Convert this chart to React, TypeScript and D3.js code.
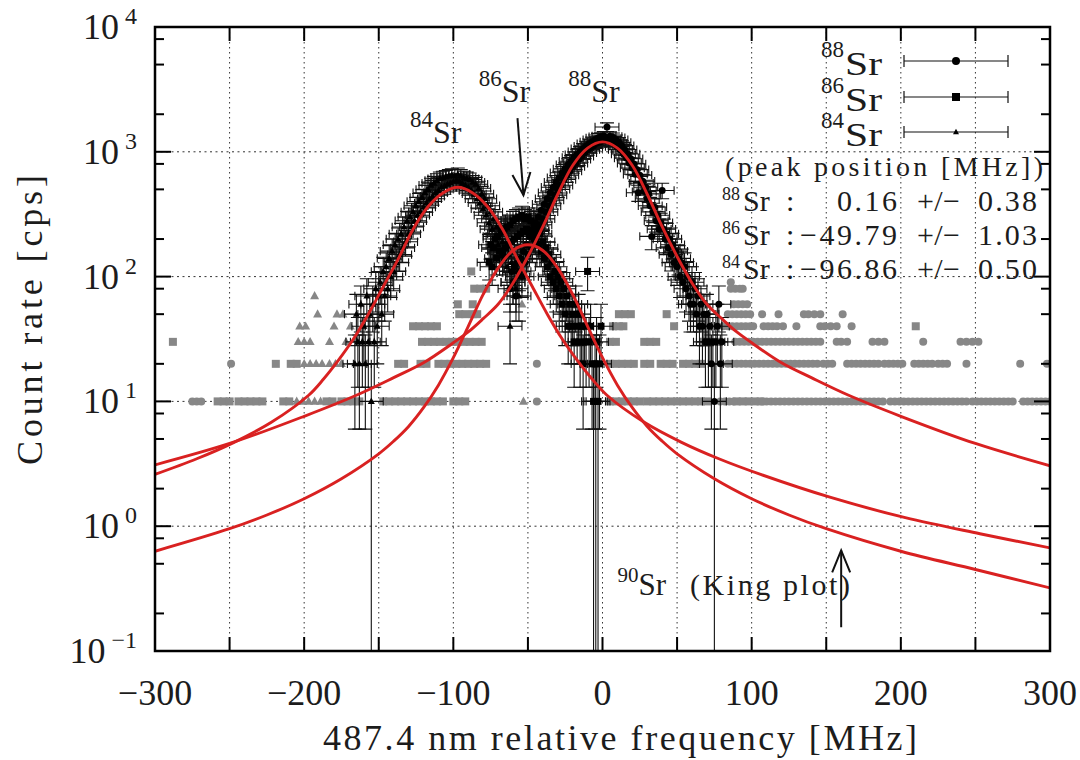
import React from "react";
import * as d3 from "d3";

type P2 = [number, number];
type P3 = [number, number, number];

// ---------- axis ticks ----------
const xGridTicks = [-300, -250, -200, -150, -100, -50, 0, 50, 100, 150, 200, 250, 300];
const xLabelTicks = [-300, -200, -100, 0, 100, 200, 300];
const xLabelTexts = ["\u2212300", "\u2212200", "\u2212100", "0", "100", "200", "300"];
const yDecades = [0.1, 1, 10, 100, 1000, 10000];
const yDecadeExp = ["\u22121", "0", "1", "2", "3", "4"];
const yMinorTicks = [0.2, 0.5, 0.8, 2, 5, 8, 20, 50, 80, 200, 500, 800, 2000, 5000, 8000];

// ---------- fit curves (MHz, cps) ----------
const fit88: P2[] = [[-300,3.1],[-250,4.6],[-200,7.6],[-165,11.2],[-140,15.5],[-120,20.4],[-100,29.5],[-90,36],[-80,46],[-70,60],[-60,89],[-50,145],[-40,251],[-30,457],[-20,776],[-10,1070],[0,1200],[10,1070],[20,776],[30,457],[40,251],[50,145],[60,89],[70,60],[80,46],[90,36],[100,29.5],[120,20.4],[140,15.5],[165,11.2],[200,7.6],[250,4.6],[300,3.05]];
const fit84: P2[] = [[-300,2.6],[-272,3.47],[-247,4.7],[-222,6.8],[-197,11.2],[-187,15.1],[-177,21.4],[-167,31.6],[-157,50],[-147,83],[-137,138],[-127,240],[-117,363],[-107,468],[-97,520],[-87,468],[-77,363],[-67,240],[-57,138],[-47,83],[-37,50],[-27,31.6],[-17,21.4],[-7,15.1],[3,11.2],[28,6.8],[53,4.7],[78,3.47],[106,2.6],[153,1.7],[203,1.17],[253,0.87],[300,0.67]];
const fit86: P2[] = [[-300,0.63],[-250,0.955],[-225,1.23],[-200,1.66],[-175,2.4],[-150,3.8],[-140,4.8],[-130,6.3],[-120,8.9],[-110,13.5],[-100,22.4],[-90,40],[-80,72],[-70,117],[-60,162],[-50,180],[-40,162],[-30,117],[-20,72],[-10,40],[0,22.4],[10,13.5],[20,8.9],[30,6.3],[40,4.8],[50,3.8],[75,2.4],[100,1.66],[125,1.23],[150,0.955],[200,0.63],[250,0.45],[300,0.32]];

// ---------- measured points in fit window: [MHz, cps, error] ----------
const data84: P3[] = [[-166,20,14],[-165,50,22],[-164,30,17],[-163,20,14],[-162,60,24],[-161,30,17],[-160,40,20],[-159,20,14],[-158,70,26],[-157,30,17],[-156,50,22],[-155,10,10],[-154,60,24],[-153,30,17],[-152,80,28],[-151,40,20],[-150,70,26],[-149,90,30],[-148,50,22],[-147,110,33],[-146,70,26],[-145,120,35],[-144,80,28],[-143,140,37],[-142,100,32],[-141,160,40],[-140,110,33],[-139,180,42],[-138,130,36],[-137,200,45],[-136,150,39],[-135,220,47],[-134,170,41],[-133,250,50],[-132,190,44],[-131,280,53],[-130,220,47],[-129,300,55],[-128,250,50],[-127,330,57],[-126,280,53],[-125,370,61],[-124,310,56],[-123,400,63],[-122,330,57],[-121,430,66],[-120,360,60],[-119,470,69],[-118,390,62],[-117,500,71],[-116,420,65],[-115,540,73],[-114,440,66],[-113,560,75],[-112,470,69],[-111,590,77],[-110,490,70],[-109,610,78],[-108,520,72],[-107,620,79],[-106,530,73],[-105,630,79],[-104,550,74],[-103,640,80],[-102,560,75],[-101,650,81],[-100,580,76],[-99,640,80],[-98,590,77],[-97,660,81],[-96,580,76],[-95,640,80],[-94,560,75],[-93,620,79],[-92,540,73],[-91,610,78],[-90,520,72],[-89,600,77],[-88,490,70],[-87,570,75],[-86,460,68],[-85,550,74],[-84,420,65],[-83,510,71],[-82,390,62],[-81,460,68],[-80,350,59],[-79,420,65],[-78,310,56],[-77,370,61],[-76,270,52],[-75,330,57],[-74,240,49],[-73,290,54],[-72,210,46],[-71,250,50],[-70,180,42],[-69,220,47],[-68,160,40],[-67,190,44],[-66,140,37],[-65,170,41],[-64,120,35],[-63,150,39],[-62,40,20],[-61,130,36],[-60,90,30],[-59,110,33],[-58,80,28],[-57,100,32],[-56,70,26]];

const data86: P3[] = [[-76,130,36],[-75,180,42],[-74,120,35],[-73,170,41],[-72,200,45],[-71,140,37],[-70,210,46],[-69,160,40],[-68,230,48],[-67,150,39],[-66,240,49],[-65,170,41],[-64,250,50],[-63,180,42],[-62,260,51],[-61,190,44],[-60,280,53],[-59,200,45],[-58,290,54],[-57,210,46],[-56,300,55],[-55,220,47],[-54,310,56],[-53,230,48],[-52,290,54],[-51,240,49],[-50,300,55],[-49,230,48],[-48,280,53],[-47,220,47],[-46,260,51],[-45,200,45],[-44,240,49],[-43,180,42],[-42,220,47],[-41,160,40],[-40,190,44],[-39,140,37],[-38,170,41],[-37,120,35],[-36,150,39],[-35,100,32],[-34,130,36],[-33,90,30],[-32,110,33],[-31,80,28],[-30,100,32],[-29,70,26],[-28,90,30],[-27,60,24],[-26,80,28],[-25,50,22],[-24,70,26],[-23,40,20],[-22,60,24],[-21,40,20],[-20,50,22],[-19,30,17],[-18,60,24],[-17,40,20],[-16,50,22],[-15,30,17],[-14,40,20],[-13,20,14],[-12,40,20],[-11,30,17],[-10,110,33],[-9,30,17],[-8,40,20],[-7,20,14],[-6,10,10],[-5,20,14],[-4.5,10,10],[-4,30,17],[-3,10,10],[-2,20,14],[-1,40,20]];

const data88: P3[] = [[-62,80,28],[-61,110,33],[-60,90,30],[-59,120,35],[-58,70,26],[-57,130,36],[-56,110,33],[-55,140,37],[-54,100,32],[-53,160,40],[-52,130,36],[-51,180,42],[-50,150,39],[-49,210,46],[-48,170,41],[-47,240,49],[-46,200,45],[-45,270,52],[-44,230,48],[-43,300,55],[-42,260,51],[-41,340,58],[-40,290,54],[-39,380,62],[-38,330,57],[-37,420,65],[-36,370,61],[-35,470,69],[-34,410,64],[-33,520,72],[-32,450,67],[-31,570,75],[-30,500,71],[-29,620,79],[-28,540,73],[-27,680,82],[-26,600,77],[-25,730,85],[-24,650,81],[-23,790,89],[-22,700,84],[-21,840,92],[-20,760,87],[-19,900,95],[-18,810,90],[-17,950,97],[-16,870,93],[-15,1000,100],[-14,920,96],[-13,1060,103],[-12,980,99],[-11,1110,105],[-10,1040,102],[-9,1160,108],[-8,1080,104],[-7,1200,110],[-6,1120,106],[-5,1250,112],[-4,1170,108],[-3,1290,114],[-2,1200,110],[-1,1320,115],[0,1220,110],[1,1340,116],[2,1230,111],[3,1580,126],[4,1250,112],[5,1330,115],[6,1200,110],[7,1300,114],[8,1160,108],[9,1250,112],[10,1100,105],[11,1190,109],[12,1040,102],[13,1120,106],[14,960,98],[15,1040,102],[16,890,94],[17,960,98],[18,810,90],[19,880,94],[20,740,86],[21,800,89],[22,660,81],[23,720,85],[24,470,69],[25,650,81],[26,560,75],[27,580,76],[28,480,69],[29,520,72],[30,420,65],[31,460,68],[32,370,61],[33,210,46],[34,330,57],[35,360,60],[36,280,53],[37,310,56],[38,240,49],[39,270,52],[40,490,70],[41,240,49],[42,200,45],[43,220,47],[44,170,41],[45,200,45],[46,150,39],[47,180,42],[48,130,36],[49,160,40],[50,120,35],[51,140,37],[52,100,32],[53,130,36],[54,90,30],[55,120,35],[56,80,28],[57,100,32],[58,70,26],[59,60,24],[60,90,30],[61,60,24],[62,80,28],[63,50,22],[64,70,26],[65,40,20],[66,60,24],[67,40,20],[68,50,22],[69,30,17],[70,50,22],[71,30,17],[72,40,20],[73,20,14],[74,30,17],[75,10,10],[76,30,17],[77,40,20],[78,60,24],[79,20,14],[80,30,17]];

// ---------- points outside the fit windows (gray): [MHz, cps] ----------
const gray88: P2[] = [
  [-275,10],[-272,10],[-269,10],[-44,10],[79,10],[82,10],[85,10],[88,10],
  [107,10],[110,10],[113,10],[116,10],[119,10],[122,10],[125,10],[128,10],[131,10],[134,10],[137,10],[140,10],[143,10],[146,10],[149,10],[152,10],[155,10],[158,10],[161,10],[164,10],[167,10],[170,10],[173,10],[176,10],[179,10],[182,10],[185,10],[188,10],
  [193,10],[196,10],[199,10],[202,10],[205,10],[208,10],[211,10],[214,10],[217,10],[220,10],
  [223,10],[226,10],[229,10],[232,10],[235,10],[238,10],[241,10],[244,10],
  [248,10],[251,10],[254,10],[257,10],[260,10],[263,10],[266,10],[269,10],[272,10],[275,10],
  [282,10],[285,10],[288,10],[291,10],[294,10],[297,10],[300,10],
  [-249,20],[-44,20],[84,20],[87,20],[90,20],[93,20],[96,20],[99,20],[102,20],[105,20],[108,20],[111,20],[114,20],[117,20],[120,20],[123,20],[126,20],[129,20],[132,20],[135,20],[138,20],[141,20],[144,20],
  [148,20],[151,20],[154,20],[164,20],[167,20],[170,20],[173,20],[176,20],[179,20],[182,20],[185,20],
  [189,20],[192,20],[195,20],[198,20],[201,20],[209,20],[212,20],[215,20],[218,20],[221,20],[225,20],[228,20],[231,20],[244,20],[280,20],[298,20],
  [89,30],[92,30],[95,30],[98,30],[101,30],[104,30],[107,30],[110,30],[113,30],[116,30],[119,30],[122,30],[125,30],[128,30],[131,30],[134,30],[137,30],[140,30],[143,30],[146,30],
  [157,30],[160,30],[164,30],[181,30],[185,30],[189,30],[215,30],[240,30],[244,30],[248,30],[252,30],
  [81,40],[84,40],[87,40],[90,40],[93,40],[96,40],[99,40],[101,40],[108,40],[111,40],[114,40],[117,40],[121,40],[130,40],[146,40],[149,40],[153,40],[157,40],[167,40],
  [84,50],[87,50],[90,50],[93,50],[96,50],[99,50],[107,50],[118,50],[135,50],[138,50],[142,50],[146,50],[161,50],
  [88,60],[91,60],[94,60],[97,60],[86,80],[89,80],[92,80],[94,80],[86,90]
];

const gray86: P2[] = [
  [-258,10],[-254,10],[-250,10],[-244,10],[-240,10],[-236,10],[-232,10],[-228,10],[-214,10],[-210,10],
  [-185,10],[-181,10],[-175,10],[-171,10],[-167,10],[-163,10],
  [-147,10],[-143,10],[-139,10],[-135,10],[-131,10],[-127,10],[-123,10],[-119,10],[-115,10],[-111,10],[-107,10],[-100,10],[-96,10],[-92,10],
  [5,10],[9,10],[13,10],[17,10],[21,10],[25,10],[30,10],[34,10],[38,10],[42,10],[46,10],[50,10],[54,10],[58,10],[62,10],[66,10],[70,10],
  [90,10],[94,10],[98,10],[102,10],[106,10],
  [-219,20],[-209,20],[-205,20],[-137,20],[-133,20],[-122,20],[-118,20],[-110,20],[-106,20],[-102,20],[-98,20],[-94,20],[-90,20],[-86,20],[-82,20],[-78,20],
  [5,20],[9,20],[13,20],[17,20],[21,20],[28,20],[32,20],[39,20],[43,20],[47,20],[54,20],[58,20],[62,20],[66,20],
  [-288,30],[-121,30],[-117,30],[-113,30],[-109,30],[-105,30],[-101,30],[-97,30],[-93,30],[-89,30],[-85,30],[-81,30],[5,30],[9,30],[28,30],[32,30],[36,30],[70,30],[74,30],[78,30],
  [-127,40],[-123,40],[-119,40],[-115,40],[-111,40],[7,40],[11,40],[14,40],[48,40],[210,40],
  [-96,50],[-92,50],[-87,50],[-84,50],[11,50],[15,50],[19,50],[43,50],
  [-97,60],[-87,60],[-86,80],[-82,80],[-78,80],[-88,110]
];

const gray84: P2[] = [
  [-205,10],[-201,10],[-197,10],[-193,10],[-189,10],[-53,10],
  [-200,20],[-196,20],[-192,20],[-188,20],[-183,20],[-179,20],[-175,20],
  [-204,30],[-200,30],[-196,30],[-183,30],[-172,30],
  [-203,40],[-199,40],[-180,40],[-169,40],
  [-191,50],[-178,50],[-174,50],[-54,60],[-193,70]
];

// ---------- text content ----------
const legendIsotopes = ["88", "86", "84"];
const legendMarkers = ["circle", "square", "triangle"];
const peakTitle = "(peak position [MHz])";
const peakIsotopes = ["88", "86", "84"];
const peakValues = ["0.16", "\u221249.79", "\u221296.86"];
const peakErrors = ["0.38", "1.03", "0.50"];

// annotation anchors in data units
const peakLabels = [
  { iso: "84", x: -129, v: 1170 },
  { iso: "86", x: -83, v: 2500 },
  { iso: "88", x: -23, v: 2500 },
];
const arrow86 = { x0: -57, v0: 1860, x1: -53, v1: 450 };
const arrow90 = { x: 160, v0: 0.155, v1: 0.64 };
const label90 = { x: 10, v: 0.28 };

const W = 1080, H = 760;
const PL = 155, PR = 1050, PT = 27, PB = 651;
const FONT = "'Liberation Serif', 'DejaVu Serif', serif";
const TXT = "#1c1c1c";
const RED = "#d92121";
const GRAY = "#878787";
const XERR = 8;

function Marker({ kind, cx, cy, fill, s }: { kind: string; cx: number; cy: number; fill: string; s: number }) {
  if (kind === "circle") return <circle cx={cx} cy={cy} r={s / 2} fill={fill} />;
  if (kind === "square") return <rect x={cx - s / 2} y={cy - s / 2} width={s} height={s} fill={fill} />;
  const h = s * 0.9;
  return <path d={`M${cx},${cy - h * 0.6}L${cx - s / 2},${cy + h * 0.4}L${cx + s / 2},${cy + h * 0.4}Z`} fill={fill} />;
}

export default function App() {
  const x = d3.scaleLinear().domain([-300, 300]).range([PL, PR]);
  const y = d3.scaleLog().domain([0.1, 10000]).range([PB, PT]);
  const line = d3.line<P2>().x((d) => x(d[0])).y((d) => y(d[1])).curve(d3.curveCatmullRom.alpha(0.5));

  const cap = 7;
  const errBars = (pts: P3[], key: string) =>
    pts.map((d, i) => {
      const cx = x(d[0]);
      const cy = y(d[1]);
      const top = y(d[1] + d[2]);
      const lowV = d[1] - d[2];
      const bot = lowV > 0.1 ? y(lowV) : PB;
      const xl = x(d[0] - XERR), xr = x(d[0] + XERR);
      let p = `M${cx},${top}L${cx},${bot}M${cx - cap},${top}L${cx + cap},${top}`;
      if (lowV > 0.1) p += `M${cx - cap},${bot}L${cx + cap},${bot}`;
      p += `M${xl},${cy}L${xr},${cy}M${xl},${cy - cap * 0.6}L${xl},${cy + cap * 0.6}M${xr},${cy - cap * 0.6}L${xr},${cy + cap * 0.6}`;
      return <path key={key + i} d={p} stroke="#111" strokeWidth={1.1} fill="none" />;
    });

  const legendY = [61, 97, 132];
  const legendBase = [75, 111, 146];
  const peakBase = [211, 245, 279];

  return (
    <svg width={W} height={H} style={{ position: "absolute", left: 0, top: 0, background: "#fff" }} fontFamily={FONT}>
      <rect x={0} y={0} width={W} height={H} fill="#fff" />
      <defs>
        <clipPath id="plotclip">
          <rect x={PL} y={PT} width={PR - PL} height={PB - PT} />
        </clipPath>
      </defs>

      {/* grid */}
      {xGridTicks.filter((t) => t > -300 && t < 300).map((t) => (
        <line key={"gx" + t} x1={x(t)} x2={x(t)} y1={PT} y2={PB} stroke="#333" strokeWidth={1} strokeDasharray="1.5,3.5" />
      ))}
      {yDecades.filter((v) => v > 0.1 && v < 10000).map((v) => (
        <line key={"gy" + v} x1={PL} x2={PR} y1={y(v)} y2={y(v)} stroke="#333" strokeWidth={1} strokeDasharray="2,3.5" />
      ))}

      <g clipPath="url(#plotclip)">
        {/* gray points */}
        {gray86.map((d, i) => <Marker key={"g86" + i} kind="square" cx={x(d[0])} cy={y(d[1])} fill={GRAY} s={8} />)}
        {gray88.map((d, i) => <Marker key={"g88" + i} kind="circle" cx={x(d[0])} cy={y(d[1])} fill={GRAY} s={8} />)}
        {gray84.map((d, i) => <Marker key={"g84" + i} kind="triangle" cx={x(d[0])} cy={y(d[1])} fill={GRAY} s={9} />)}

        {/* error bars */}
        {errBars(data84, "e84")}
        {errBars(data86, "e86")}
        {errBars(data88, "e88")}

        {/* black markers */}
        {data84.map((d, i) => <Marker key={"m84" + i} kind="triangle" cx={x(d[0])} cy={y(d[1])} fill="#000" s={7} />)}
        {data86.map((d, i) => <Marker key={"m86" + i} kind="square" cx={x(d[0])} cy={y(d[1])} fill="#000" s={7} />)}
        {data88.map((d, i) => <Marker key={"m88" + i} kind="circle" cx={x(d[0])} cy={y(d[1])} fill="#000" s={7} />)}

        {/* fit curves */}
        {[fit88, fit86, fit84].map((f, i) => (
          <path key={"fit" + i} d={line(f) || ""} stroke={RED} strokeWidth={2.9} fill="none" />
        ))}
      </g>

      {/* frame */}
      <rect x={PL} y={PT} width={PR - PL} height={PB - PT} fill="none" stroke="#000" strokeWidth={2.5} />

      {/* x ticks */}
      {xGridTicks.map((t) => (
        <g key={"xt" + t}>
          <line x1={x(t)} x2={x(t)} y1={PB} y2={PB - 14} stroke="#000" strokeWidth={2} />
          <line x1={x(t)} x2={x(t)} y1={PT} y2={PT + 14} stroke="#000" strokeWidth={2} />
        </g>
      ))}
      {/* y ticks */}
      {yDecades.map((v) => (
        <g key={"yt" + v}>
          <line x1={PL} x2={PL + 16} y1={y(v)} y2={y(v)} stroke="#000" strokeWidth={2} />
          <line x1={PR} x2={PR - 16} y1={y(v)} y2={y(v)} stroke="#000" strokeWidth={2} />
        </g>
      ))}
      {yMinorTicks.map((v) => (
        <g key={"ym" + v}>
          <line x1={PL} x2={PL + 9} y1={y(v)} y2={y(v)} stroke="#000" strokeWidth={2} />
          <line x1={PR} x2={PR - 9} y1={y(v)} y2={y(v)} stroke="#000" strokeWidth={2} />
        </g>
      ))}

      {/* tick labels */}
      {xLabelTicks.map((t, i) => (
        <text key={"xl" + t} x={x(t)} y={705} textAnchor="middle" fontSize={36} fill={TXT}>{xLabelTexts[i]}</text>
      ))}
      {yDecades.map((v, i) => (
        <text key={"yl" + v} x={137} y={y(v) + 12} textAnchor="end" fontSize={36} fill={TXT}>
          10<tspan fontSize={24} dx={6} dy={-15}>{yDecadeExp[i]}</tspan>
        </text>
      ))}

      {/* axis titles */}
      <text x={620} y={750} textAnchor="middle" fontSize={36} fill={TXT} textLength={594} lengthAdjust="spacing">
        487.4 nm relative frequency [MHz]
      </text>
      <text transform={`translate(42,320) rotate(-90)`} textAnchor="middle" fontSize={36} fill={TXT} textLength={290} lengthAdjust="spacing">
        Count rate [cps]
      </text>

      {/* legend */}
      {legendIsotopes.map((iso, i) => (
        <g key={"lg" + iso}>
          <text x={844} y={legendBase[i] - 18} textAnchor="end" fontSize={23} fill={TXT}>{iso}</text>
          <text x={882} y={legendBase[i]} textAnchor="end" fontSize={33} fill={TXT} textLength={37} lengthAdjust="spacingAndGlyphs">Sr</text>
          <path d={`M904,${legendY[i]}L1008,${legendY[i]}M904,${legendY[i] - 6}L904,${legendY[i] + 6}M1008,${legendY[i] - 6}L1008,${legendY[i] + 6}`} stroke="#111" strokeWidth={1.2} fill="none" />
          <Marker kind={legendMarkers[i]} cx={956} cy={legendY[i]} fill="#000" s={i === 2 ? 6 : 8} />
        </g>
      ))}

      {/* peak position table */}
      <text x={725} y={176} fontSize={28} fill={TXT} textLength={318} lengthAdjust="spacing">{peakTitle}</text>
      {peakIsotopes.map((iso, i) => (
        <g key={"pk" + iso}>
          <text x={722} y={peakBase[i] - 11} fontSize={18} fill={TXT}>{iso}</text>
          <text x={743} y={peakBase[i]} fontSize={30} fill={TXT}>Sr</text>
          <text x={786} y={peakBase[i]} fontSize={30} fill={TXT}>:</text>
          <text x={897} y={peakBase[i]} fontSize={30} fill={TXT} textAnchor="end" textLength={i === 0 ? 60 : 97} lengthAdjust="spacing">{peakValues[i]}</text>
          <text x={917} y={peakBase[i]} fontSize={30} fill={TXT} textLength={43} lengthAdjust="spacing">+/−</text>
          <text x={978} y={peakBase[i]} fontSize={30} fill={TXT} textLength={59} lengthAdjust="spacing">{peakErrors[i]}</text>
        </g>
      ))}

      {/* peak labels */}
      {peakLabels.map((p) => (
        <text key={"pl" + p.iso} x={x(p.x)} y={y(p.v)} fill={TXT}>
          <tspan fontSize={23} dy={-16}>{p.iso}</tspan>
          <tspan fontSize={32} dy={16}>Sr</tspan>
        </text>
      ))}

      {/* 86Sr arrow */}
      <line x1={x(arrow86.x0)} y1={y(arrow86.v0)} x2={x(arrow86.x1)} y2={y(arrow86.v1)} stroke="#111" strokeWidth={2} />
      <path d={`M${x(arrow86.x1) - 11},${y(arrow86.v1) - 20}L${x(arrow86.x1)},${y(arrow86.v1)}L${x(arrow86.x1) + 7},${y(arrow86.v1) - 23}`} stroke="#111" strokeWidth={2} fill="none" />

      {/* 90Sr arrow + label */}
      <line x1={x(arrow90.x)} y1={y(arrow90.v0)} x2={x(arrow90.x)} y2={y(arrow90.v1)} stroke="#111" strokeWidth={2} />
      <path d={`M${x(arrow90.x) - 9},${y(arrow90.v1) + 22}L${x(arrow90.x)},${y(arrow90.v1)}L${x(arrow90.x) + 9},${y(arrow90.v1) + 22}`} stroke="#111" strokeWidth={2} fill="none" />
      <text x={x(label90.x)} y={y(label90.v)} fill={TXT}>
        <tspan fontSize={21} dy={-13}>90</tspan>
        <tspan fontSize={31} dy={13}>Sr</tspan>
      </text>
      <text x={690} y={y(label90.v)} fontSize={30} fill={TXT} textLength={160} lengthAdjust="spacing">(King plot)</text>
    </svg>
  );
}
